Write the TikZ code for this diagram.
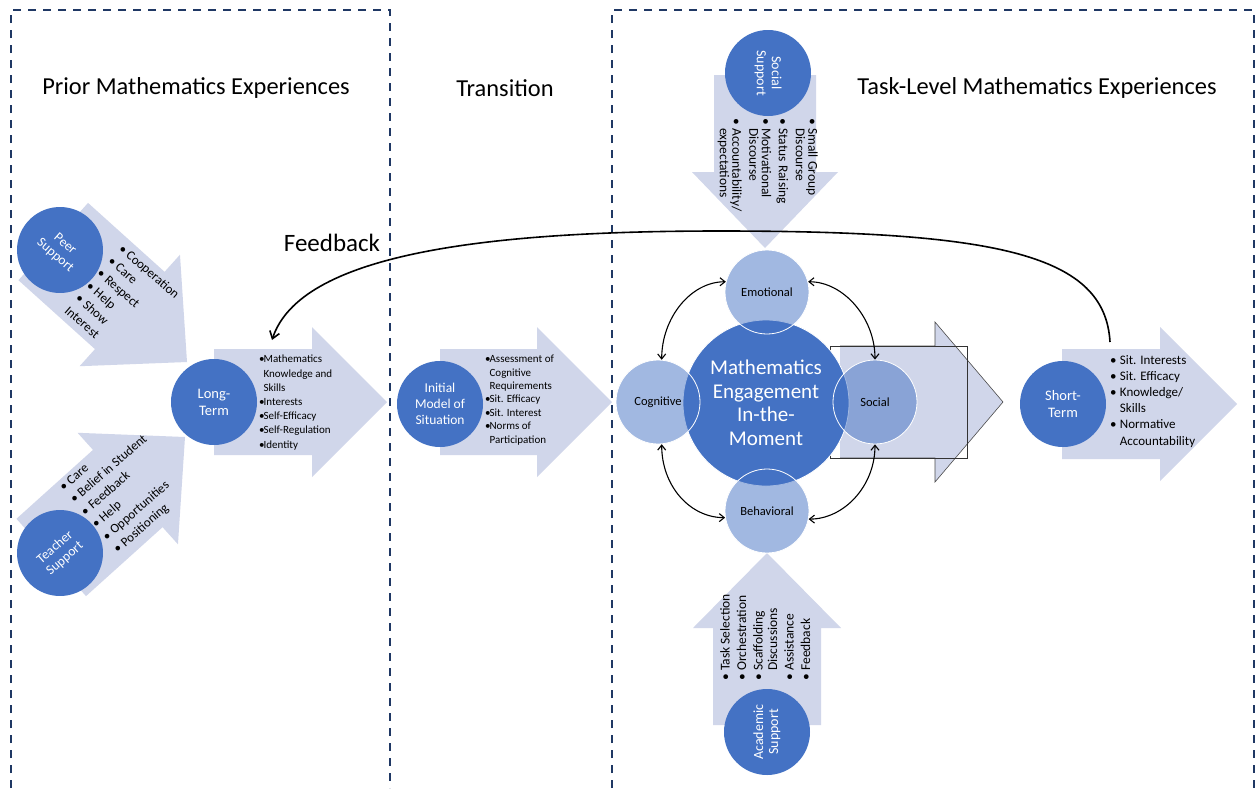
\documentclass[tikz,border=0pt]{standalone}
\usepackage{fontspec}
\setmainfont{Carlito}
\usetikzlibrary{arrows.meta}
\definecolor{dblue}{RGB}{68,114,196}
\definecolor{afill}{RGB}{208,214,234}
\definecolor{dashcol}{RGB}{31,56,100}
\newcommand{\blkarrow}[7]{\fill[afill,shift={(#1,#2)},rotate=#3] (0,0) -- (-#5,-#6) -- (-#5,-#7) -- (-#4,-#7) -- (-#4,#7) -- (-#5,#7) -- (-#5,#6) -- cycle;}
\newcommand{\bA}{\makebox[0.4em][l]{\textbullet}}
\newcommand{\iA}{\hspace*{0.4em}}
\newcommand{\bB}{\makebox[0.75em][l]{\textbullet}}
\newcommand{\iB}{\hspace*{0.75em}}
\begin{document}
\begin{tikzpicture}[x=1pt,y=-1pt,
  bigcirc/.style={circle,fill=dblue,text=white,inner sep=0pt,minimum size=86pt,align=center},
  engcirc/.style={circle,fill=dblue,fill opacity=0.5,text opacity=1,draw=white,line width=0.8pt,minimum size=84pt,inner sep=0pt,font=\fontsize{12.5}{14}\selectfont},
  sepline/.style={dashcol,line width=1.6pt,dash pattern=on 8pt off 7pt},
  title/.style={font=\fontsize{24.4}{28}\selectfont},
  lst/.style={inner sep=0pt,align=left,anchor=north west},
  dbl/.style={{Straight Barb[length=5pt,width=8pt]}-{Straight Barb[length=5pt,width=8pt]},line width=1.1pt},
]
\useasboundingbox (0,0) rectangle (1256,788);
\fill[white] (0,0) rectangle (1256,788);

% section frames
\draw[sepline] (11,788) -- (11,10) -- (390,10) -- (390,788);
\draw[sepline] (612,788) -- (612,10) -- (1254,10) -- (1254,788);

% titles
\node[title] (t1) at (196,88) {Prior Mathematics Experiences};
\node[title] (t2) at (505,88) {Transition};
\node[title] (t3) at (1037,88) {Task-Level Mathematics Experiences};

% block arrows
\blkarrow{187}{362}{-42}{180}{77}{75}{52}
\blkarrow{185}{437}{42}{180}{77}{75}{52}
\blkarrow{387}{402}{0}{173}{75}{75}{53}
\blkarrow{612}{402}{0}{172}{75}{75}{53}
\blkarrow{1237}{404}{0}{175}{77}{77}{55}
\blkarrow{765}{248}{-90}{173}{76}{73}{51}
\blkarrow{767}{553}{90}{172}{75}{74}{54}

% central big arrow
\filldraw[fill=afill,draw=black!70,line width=0.6pt] (840,346) -- (935,346) -- (935,322) -- (1003,402) -- (935,482) -- (935,458) -- (840,458);
\draw[black!80,line width=0.6pt] (830,346) rectangle (967,458);

% support circles
\node[bigcirc,rotate=-41,font=\fontsize{13.5}{15}\selectfont] (peer) at (60,250) {Peer\\Support};
\node[bigcirc,rotate=41,font=\fontsize{13.5}{15}\selectfont] (teach) at (60,553) {Teacher\\Support};
\node[bigcirc,font=\fontsize{14.5}{17}\selectfont] (lt) at (214,402) {Long-\\Term};
\node[bigcirc,font=\fontsize{13.5}{16}\selectfont] (im) at (440,404) {Initial\\Model of\\Situation};
\node[bigcirc,font=\fontsize{14.5}{17}\selectfont] (st) at (1063,404) {Short-\\Term};
\node[bigcirc,rotate=-90,font=\fontsize{14}{15}\selectfont] (ss) at (768,73) {Social\\Support};
\node[bigcirc,rotate=90,font=\fontsize{14}{15}\selectfont] (as) at (767,732) {Academic\\Support};

% engagement
\node[circle,fill=dblue,draw=white,line width=0.8pt,minimum size=166pt,inner sep=0pt,text=white,align=center,font=\fontsize{21}{23.5}\selectfont] (eng) at (766,403) {Mathematics\\Engagement\\In-the-\\Moment};
\node[engcirc] (emo) at (767,292) {Emotional};
\node[engcirc] (cog) at (658,402) {Cognitive};
\node[engcirc] (soc) at (875,402) {Social};
\node[engcirc] (beh) at (767,511) {Behavioral};

\draw[dbl] (emo.166) .. controls +(-35,0) and +(0,-42) .. (cog.85);
\draw[dbl] (emo.14) .. controls +(35,0) and +(0,-42) .. (soc.90);
\draw[dbl] (cog.275) .. controls +(0,42) and +(-35,0) .. (beh.189);
\draw[dbl] (soc.270) .. controls +(0,42) and +(35,0) .. (beh.349);

% lists
\node[lst,rotate=-41,font=\fontsize{13}{16.5}\selectfont] (pl) at (124,243) {\bB Cooperation\\\bB Care\\\bB Respect\\\bB Help\\\bB Show\\Interest};
\node[lst,rotate=41,font=\fontsize{13}{16.5}\selectfont] (tl) at (58,485) {\bB Care\\\bB Belief in Student\\\bB Feedback\\\bB Help\\\bB Opportunities\\\bB Positioning};
\node[lst,font=\fontsize{11}{14.2}\selectfont] (ll) at (259,355) {\bA Mathematics\\\iA Knowledge and\\\iA Skills\\\bA Interests\\\bA Self-Efficacy\\\bA Self-Regulation\\\bA Identity};
\node[lst,font=\fontsize{11}{13.4}\selectfont] (il) at (485,355) {\bA Assessment of\\\iA Cognitive\\\iA Requirements\\\bA Sit. Efficacy\\\bA Sit. Interest\\\bA Norms of\\\iA Participation};
\node[lst,font=\fontsize{13}{16.2}\selectfont] (sl) at (1110,355) {\bB Sit. Interests\\\bB Sit. Efficacy\\\bB Knowledge/\\\iB Skills\\\bB Normative\\\iB Accountability};
\node[lst,rotate=-90,font=\fontsize{13.5}{12.5}\selectfont] (ssl) at (818,118) {\bB Small Group\\\iB Discourse\\[4.5pt]\bB Status Raising\\[4.5pt]\bB Motivational\\\iB Discourse\\[4.5pt]\bB Accountability/\\\iB expectations};
\node[lst,rotate=90,font=\fontsize{13.5}{14.5}\selectfont] (asl) at (720,681) {\bB Task Selection\\[2pt]\bB Orchestration\\[2pt]\bB Scaffolding\\\iB Discussions\\[2pt]\bB Assistance\\[2pt]\bB Feedback};

% feedback loop
\node[font=\fontsize{25}{28}\selectfont] (fb) at (332,243) {Feedback};
\coordinate (fbs) at (1110,342);
\coordinate (fbe) at (272,340);
\draw[line width=1.6pt,-{Straight Barb[length=7pt,width=10pt]}] (fbs) .. controls (1105,255) and (1000,231) .. (720,231) .. controls (480,231) and (300,255) .. (fbe);
\end{tikzpicture}
\end{document}
